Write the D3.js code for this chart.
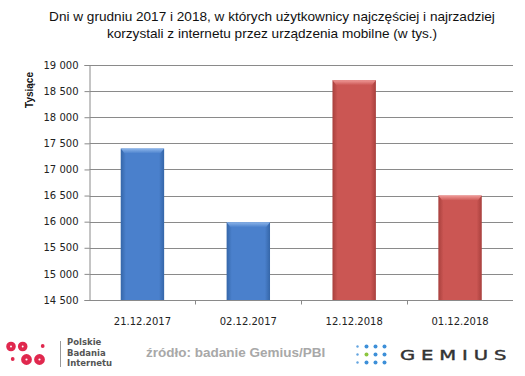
<!DOCTYPE html>
<html><head><meta charset="utf-8">
<script src="https://cdn.jsdelivr.net/npm/d3@7"></script>
<style>body{margin:0;background:#fff}svg{display:block}</style>
</head><body>
<script>
const categories = ["21.12.2017","02.12.2017","12.12.2018","01.12.2018"];
const values = [17400, 15990, 18710, 16500];
const seriesColor = ["blue","blue","red","red"];
const yTicks = [14500,15000,15500,16000,16500,17000,17500,18000,18500,19000];
const titleLines = ["Dni w grudniu 2017 i 2018, w których użytkownicy najczęściej i najrzadziej","korzystali z internetu przez urządzenia mobilne (w tys.)"];

const W=525,H=376;
const svg=d3.select("body").append("svg").attr("width",W).attr("height",H);
const m={l:89.5,r:513,t:65,b:300};
const x=d3.scaleBand().domain(categories).range([m.l,m.r]).paddingInner(0.59).paddingOuter(0.295);
const xb=d3.scaleBand().domain(categories).range([m.l,m.r]);
const y=d3.scaleLinear().domain([14500,19000]).range([m.b,m.t]);

const defs=svg.append("defs");
const pal={blue:{edge:"#3566a8",mid:"#4a80cc",top:"#8cb5ea"},red:{edge:"#a8403d",mid:"#cb5653",top:"#f09a98"}};
Object.entries(pal).forEach(([k,c])=>{
  const g=defs.append("linearGradient").attr("id","g"+k).attr("x1",0).attr("x2",1).attr("y1",0).attr("y2",0);
  g.append("stop").attr("offset",0).attr("stop-color",c.edge);
  g.append("stop").attr("offset",0.12).attr("stop-color",c.mid);
  g.append("stop").attr("offset",0.88).attr("stop-color",c.mid);
  g.append("stop").attr("offset",1).attr("stop-color",c.edge);
  const t=defs.append("linearGradient").attr("id","t"+k).attr("x1",0).attr("x2",0).attr("y1",0).attr("y2",1);
  t.append("stop").attr("offset",0).attr("stop-color",c.top);
  t.append("stop").attr("offset",1).attr("stop-color",c.mid);
});

// title
svg.append("g").selectAll("text").data(titleLines).join("text")
  .attr("x",272).attr("y",(d,i)=>21+i*17).attr("text-anchor","middle")
  .attr("font-family","Liberation Sans, Arial, sans-serif").attr("font-size",13.6).attr("fill","#111").text(d=>d);

// gridlines
svg.append("g").selectAll("line").data(yTicks.slice(1)).join("line")
  .attr("x1",m.l).attr("x2",m.r).attr("y1",d=>Math.round(y(d))+0.5).attr("y2",d=>Math.round(y(d))+0.5)
  .attr("stroke","#8a8a8a").attr("stroke-width",1);

// y axis
const ya=svg.append("g").attr("transform",`translate(${m.l},0)`)
  .call(d3.axisLeft(y).tickValues(yTicks).tickSize(5).tickPadding(6).tickFormat(d=>d3.format(",")(d).replace(",","\u00a0")));
ya.select(".domain").attr("stroke","#8a8a8a");
ya.selectAll(".tick line").attr("stroke","#8a8a8a");
ya.selectAll("text").attr("font-family","DejaVu Sans, Verdana, sans-serif").attr("font-size",10).attr("fill","#222");

// x axis
const xa=svg.append("g").attr("transform",`translate(0,${m.b+0.5})`);
xa.append("line").attr("x1",m.l).attr("x2",m.r).attr("stroke","#8a8a8a");
xa.selectAll("line.t").data(categories.slice(1)).join("line").attr("class","t")
  .attr("x1",d=>Math.round(xb(d))+0.5).attr("x2",d=>Math.round(xb(d))+0.5).attr("y1",0).attr("y2",4).attr("stroke","#8a8a8a");
xa.selectAll("text").data(categories).join("text")
  .attr("x",d=>x(d)+x.bandwidth()/2).attr("y",24).attr("text-anchor","middle")
  .attr("font-family","DejaVu Sans, Verdana, sans-serif").attr("font-size",10).attr("fill","#222").text(d=>d);

// y title
svg.append("text").attr("transform","translate(33,90) rotate(-90)").attr("text-anchor","middle")
  .attr("font-family","Liberation Sans, Arial, sans-serif").attr("font-weight","bold").attr("font-size",10).attr("fill","#111").text("Tysiące");

// bars
const bars=svg.append("g").selectAll("g").data(categories).join("g");
bars.append("rect").attr("x",d=>x(d)).attr("width",x.bandwidth())
  .attr("y",(d,i)=>y(values[i])).attr("height",(d,i)=>y(14500)-y(values[i]))
  .attr("fill",(d,i)=>`url(#g${seriesColor[i]})`);
bars.append("path").attr("d",(d,i)=>{const x0=x(d),x1=x0+x.bandwidth(),t=y(values[i]);return `M${x0},${t}L${x1},${t}L${x1-4},${t+5}L${x0+4},${t+5}Z`;})
  .attr("fill",(d,i)=>`url(#t${seriesColor[i]})`);

// PBI logo
const red="#e0284e";
const lg=svg.append("g");
[[11,346.5,4.8],[22.7,346.5,4.8],[26.5,359.5,5.4],[39.5,359.5,5.4]].forEach(([cx,cy,r])=>
  lg.append("circle").attr("cx",cx).attr("cy",cy).attr("r",r*0.6).attr("fill","none").attr("stroke",red).attr("stroke-width",r*0.8));
lg.append("circle").attr("cx",42.7).attr("cy",346).attr("r",1.9).attr("fill",red);
lg.append("circle").attr("cx",12.7).attr("cy",359).attr("r",1.9).attr("fill",red);
lg.append("line").attr("x1",60.5).attr("x2",60.5).attr("y1",341).attr("y2",367).attr("stroke","#999");
lg.selectAll("text").data(["Polskie","Badania","Internetu"]).join("text")
  .attr("x",67).attr("y",(d,i)=>345+i*10.5).attr("font-family","DejaVu Sans, sans-serif").attr("font-weight","bold")
  .attr("font-size",8.5).attr("fill","#555").text(d=>d);

// source
svg.append("text").attr("x",146).attr("y",357).attr("font-family","Liberation Sans, Arial, sans-serif").attr("font-weight","bold")
  .attr("font-size",13.5).attr("fill","#a8a8a8").text("źródło: badanie Gemius/PBI");

// Gemius logo
const gg=svg.append("g");
const cols=[357.5,366.5,375.5,384.5], rows=[346.5,354.5,362.5];
rows.forEach((ry,ri)=>cols.forEach((cx,ci)=>{
  gg.append("circle").attr("cx",cx).attr("cy",ry).attr("r",ci===0?1.2:2)
    .attr("fill",(ri===1&&ci===1)?"#8cc63f":"#3d8fd8").attr("opacity",ci===0?0.8:1);
}));
svg.append("text").attr("transform","translate(400,359.5) scale(1.4,1)").attr("font-family","DejaVu Sans, sans-serif")
  .attr("font-size",14).attr("letter-spacing",4.2).attr("stroke","#333").attr("stroke-width",0.4).attr("fill","#333").text("GEMIUS");
</script>
</body></html>
